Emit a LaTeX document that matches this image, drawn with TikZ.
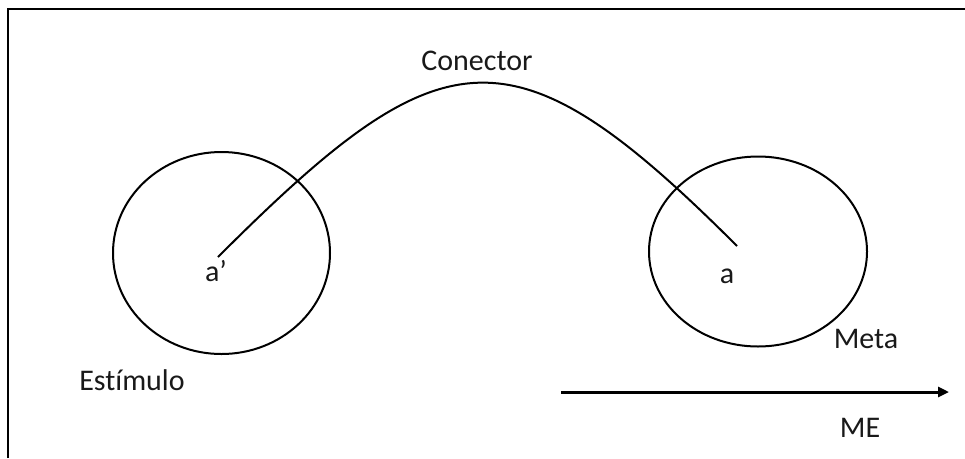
\documentclass[tikz,border=0pt]{standalone}
\usepackage{fontspec}
\setmainfont{Carlito}[Ligatures={NoCommon,NoRare,NoContextual}]
\usetikzlibrary{arrows.meta,shapes.geometric}
\begin{document}
\begin{tikzpicture}[x=1pt,y=-1pt,
  ring/.style={draw=black,line width=2pt,ellipse,inner sep=0pt},
  lbl/.style={font=\fontsize{30}{30}\selectfont,text=black!90,anchor=base,inner sep=0pt},
  link/.style={draw=black,line width=2pt},
  axis/.style={draw=black,line width=3pt,-{Triangle[length=11pt,width=10pt]}}]
\useasboundingbox (0,0) rectangle (965,458);
% frame (top and left edges)
\coordinate (fa) at (8,458);
\coordinate (fb) at (8,9);
\coordinate (fc) at (965,9);
\draw[line width=2.2pt] (fa) -- (fb) -- (fc);
% circles
\node[ring,minimum width=217pt,minimum height=202pt] (stim) at (221.5,253) {};
\node[ring,minimum width=218pt,minimum height=190pt] (meta) at (758,251.5) {};
% connector
\coordinate (p) at (218,257);
\coordinate (q) at (737,246);
\draw[link] (p) .. controls (443,32) and (512,21) .. (q);
% labels
\node[lbl] (lconector) at (477,70) {Conector};
\node[lbl] (lap) at (216,281) {a’};
\node[lbl] (la) at (727,283) {a};
\node[lbl] (lmeta) at (866,348) {Meta};
\node[lbl] (lestim) at (132,390) {Est\kern0pt ímulo};
\node[lbl] (lme) at (860,437) {ME};
% arrow
\coordinate (m0) at (561,392);
\coordinate (m1) at (949,392);
\draw[axis] (m0) -- (m1);
\end{tikzpicture}
\end{document}
